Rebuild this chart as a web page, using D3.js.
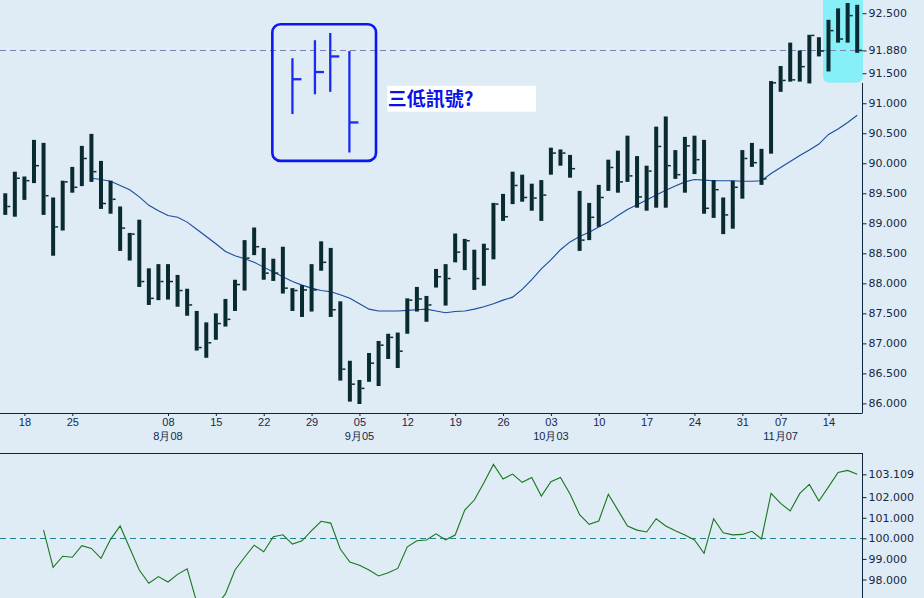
<!DOCTYPE html>
<html><head><meta charset="utf-8">
<script src="https://cdn.jsdelivr.net/npm/d3@7"></script>
<style>
body{margin:0;background:#e0ecf5;}
svg{display:block;}
.ax text{font-family:"DejaVu Sans",sans-serif;font-size:11px;fill:#14284a;}
.bx text{font-family:"Liberation Sans",Arial,sans-serif;font-size:11px;fill:#14284a;}
</style></head><body>
<svg id="c" width="924" height="598"></svg>
<script>
// ---- data ----
const highs = [89.50,89.86,89.78,90.39,90.34,89.43,89.71,89.94,90.29,90.49,90.04,89.71,89.28,88.84,89.06,88.25,88.32,88.32,88.14,87.91,
87.54,87.35,87.50,87.74,88.06,88.72,88.93,88.59,88.41,88.61,87.92,87.97,88.32,88.70,88.59,87.70,86.71,86.39,86.84,87.04,
87.16,87.18,87.75,87.94,87.79,88.24,88.32,88.83,88.74,88.56,88.66,89.34,89.49,89.86,89.81,89.66,89.72,90.26,90.23,90.14,
89.54,89.34,89.64,90.06,90.21,90.46,90.12,89.96,90.61,90.78,90.22,90.44,90.46,90.39,89.72,89.43,89.71,90.22,90.34,90.24,
91.37,91.62,92.01,91.88,92.14,92.10,92.39,92.58,92.67,92.64];
const lows = [89.14,89.11,89.39,89.67,89.14,88.46,88.88,89.51,89.62,89.69,89.24,89.16,88.54,88.38,87.94,87.64,87.72,87.73,87.61,87.46,
86.88,86.76,87.06,87.28,87.54,87.88,88.47,88.06,88.04,87.83,87.54,87.44,87.53,88.21,87.44,86.38,86.03,85.99,86.36,86.29,
86.74,86.59,87.16,87.53,87.36,87.93,87.63,88.35,88.22,87.89,87.96,88.40,89.04,89.32,89.36,89.21,89.04,89.81,89.96,89.76,
88.54,88.72,88.94,89.54,89.51,89.69,89.26,89.21,89.26,89.26,89.74,89.51,89.82,89.16,89.09,88.82,88.91,89.41,89.94,89.64,
90.16,91.19,91.36,91.36,91.33,91.78,91.53,92.01,92.01,91.84];
const closes = [89.28,89.75,89.71,89.96,89.46,88.94,89.69,89.60,90.08,89.86,89.33,89.40,88.92,88.82,88.03,87.75,88.03,88.03,87.88,87.64,
86.93,87.01,87.33,87.40,87.98,88.42,88.61,88.17,88.17,87.92,87.88,87.89,87.89,88.35,87.56,86.57,86.32,86.25,86.67,86.97,
87.10,86.87,87.72,87.74,87.64,88.11,88.08,88.52,88.71,88.08,88.57,89.32,89.11,89.63,89.43,89.42,89.47,90.17,90.17,89.91,
88.72,89.10,89.43,89.93,89.69,89.79,89.44,89.87,90.28,89.96,89.81,90.29,90.06,89.25,89.56,89.14,89.60,90.08,90.01,89.74,
91.34,91.38,91.39,91.61,92.13,91.87,92.21,92.07,92.46,91.88];
const maStart = 9;
const maValues = [89.75,89.73,89.70,89.63,89.56,89.44,89.30,89.21,89.13,89.10,89.02,88.90,88.78,88.66,88.53,88.46,88.41,88.35,88.27,88.19,
88.11,88.03,87.97,87.92,87.88,87.86,87.81,87.75,87.66,87.57,87.54,87.54,87.54,87.55,87.56,87.57,87.54,87.51,87.53,87.54,
87.57,87.61,87.66,87.72,87.77,87.90,88.06,88.24,88.39,88.56,88.69,88.78,88.85,88.94,89.02,89.13,89.23,89.31,89.39,89.47,
89.55,89.62,89.69,89.73,89.72,89.71,89.71,89.71,89.70,89.70,89.71,89.83,89.93,90.03,90.13,90.22,90.32,90.48,90.57,90.68,90.80];
const oscStart = 4;
const oscValues = [100.40,98.59,99.13,99.08,99.64,99.51,99.03,99.95,100.60,99.53,98.46,97.82,98.14,97.88,98.25,98.52,96.9,96.4,96.7,97.30,
98.46,99.08,99.67,99.35,100.08,100.17,99.72,99.88,100.37,100.83,100.74,99.48,98.85,98.69,98.46,98.17,98.33,98.54,99.59,99.88,
99.92,100.22,99.93,100.16,101.37,101.86,102.70,103.59,102.88,103.12,102.72,102.96,102.05,102.75,102.96,102.15,101.15,100.68,100.84,102.14,
101.37,100.60,100.40,100.31,100.95,100.60,100.37,100.16,99.92,99.27,100.95,100.27,100.17,100.19,100.34,99.97,102.18,101.70,101.33,102.18,
102.62,101.81,102.50,103.20,103.30,103.109];
const dayTickIdx = [2,7,17,22,27,32,37,42,47,52,57,62,67,72,77,81,86];
const dayTickLabels = ["18","25","08","15","22","29","05","12","19","26","03","10","17","24","31","07","14"];
const monthIdx = [17,37,57,81];
const monthLabels = ["8月08","9月05","10月03","11月07"];
const priceTicks = [86.0,86.5,87.0,87.5,88.0,88.5,89.0,89.5,90.0,90.5,91.0,91.5,92.5];
const oscTicks = [98,99,100,101,102];
const oscRef = 100;
// annotation sketch (index position, high, low, close)
const sketchIdx = [30.0,32.35,33.95,35.95];
const sketchHigh = [91.75,92.05,92.17,91.87];
const sketchLow = [90.82,91.15,91.19,90.18];
const sketchClose = [91.40,91.52,91.78,90.68];
const annotationText = "三低訊號?";

// ---- scales ----
const svg = d3.select("#c");
const x = d3.scaleLinear().domain([-0.55, 89.5]).range([0, 862]);
const y = d3.scaleLinear().domain([85.84, 92.72]).range([413, 0]);
const y2 = d3.scaleLinear().domain([97, 104.13]).range([600.1, 453.3]);
const n = closes.length;
const last = closes[n-1];
const fmt = d3.format(".3f");

// cyan highlight of last bars
svg.append("rect")
  .attr("x", x(85.43)).attr("y", -8)
  .attr("width", x(89.6)-x(85.43)).attr("height", y(91.34)+8)
  .attr("rx", 6).attr("fill", "#86eff8");

// right axis main
const ra = svg.append("g").attr("class","ax").attr("transform","translate(862.5,0)")
  .call(d3.axisRight(y).tickValues(priceTicks.concat([last])).tickFormat(fmt).tickSize(4).tickSizeOuter(0).tickPadding(2));
ra.select(".domain").attr("stroke","#0e2438").attr("d","M0,83V413");
ra.selectAll(".tick line").attr("stroke","#0e2438");
ra.selectAll(".tick text").filter(d=>d===last).attr("fill","#3c4c86");

// bottom axis
const ba = svg.append("g").attr("class","bx").attr("transform","translate(0,413)")
  .call(d3.axisBottom(x).tickValues(dayTickIdx).tickFormat((d,i)=>dayTickLabels[i]).tickSize(3).tickSizeOuter(0).tickPadding(2));
ba.select(".domain").attr("stroke","#0e2438").attr("d","M0,0.5H862.5");
ba.selectAll(".tick line").attr("stroke","#0e2438");
svg.append("g").attr("class","bx").selectAll("text").data(monthIdx).join("text")
  .attr("x", d=>x(d)).attr("y", 440).attr("text-anchor","middle").text((d,i)=>monthLabels[i]);

// dashed last-price line
svg.append("line").attr("x1",0).attr("x2",862).attr("y1",Math.round(y(last))+0.5).attr("y2",Math.round(y(last))+0.5)
  .attr("stroke","#7a82b4").attr("stroke-dasharray","6,4");

// moving average
const maLine = d3.line().x((d,i)=>x(i+maStart)).y(d=>y(d));
svg.append("path").attr("d", maLine(maValues)).attr("fill","none").attr("stroke","#1a4c9c").attr("stroke-width",1.1);

// bars
const idx = d3.range(n);
svg.append("g").selectAll("rect").data(idx).join("rect")
  .attr("x", i=>x(i)-2).attr("width",4)
  .attr("y", i=>y(highs[i])).attr("height", i=>Math.max(1,y(lows[i])-y(highs[i])))
  .attr("fill","#0a2a32");
svg.append("g").selectAll("rect").data(idx).join("rect")
  .attr("x", i=>x(i)+2).attr("width",3)
  .attr("y", i=>y(closes[i])-0.75).attr("height",1.5)
  .attr("fill","#0a2a32");

// annotation box
svg.append("rect").attr("x", x(27.9)).attr("y", y(92.315)).attr("width", x(38.73)-x(27.9)).attr("height", y(90.04)-y(92.315))
  .attr("rx",8).attr("fill","none").attr("stroke","#0c18f0").attr("stroke-width",2.6);
const sk = d3.range(sketchIdx.length);
svg.append("g").selectAll("line").data(sk).join("line")
  .attr("x1",i=>x(sketchIdx[i])).attr("x2",i=>x(sketchIdx[i]))
  .attr("y1",i=>y(sketchHigh[i])).attr("y2",i=>y(sketchLow[i]))
  .attr("stroke","#1a2cf0").attr("stroke-width",2.3);
svg.append("g").selectAll("line").data(sk).join("line")
  .attr("x1",i=>x(sketchIdx[i])).attr("x2",i=>x(sketchIdx[i])+9)
  .attr("y1",i=>y(sketchClose[i])).attr("y2",i=>y(sketchClose[i]))
  .attr("stroke","#1a2cf0").attr("stroke-width",2.3);
svg.append("rect").attr("x", x(39.91)).attr("y", y(91.29)).attr("width", x(55.45)-x(39.91)).attr("height", y(90.86)-y(91.29))
  .attr("fill","#ffffff");
svg.append("text").attr("x", x(39.95)).attr("y", y(90.95))
  .attr("font-family","'Noto Sans CJK TC',sans-serif").attr("font-weight","bold").attr("font-size",19)
  .attr("fill","#0a10e8").text(annotationText);

// ---- lower panel ----
svg.append("line").attr("x1",0).attr("x2",863).attr("y1",453.5).attr("y2",453.5).attr("stroke","#0e2438");
const la = svg.append("g").attr("class","ax").attr("transform","translate(862.5,0)")
  .call(d3.axisRight(y2).tickValues(oscTicks.concat([oscValues[oscValues.length-1]])).tickFormat(fmt).tickSize(4).tickSizeOuter(0).tickPadding(2));
la.select(".domain").attr("stroke","#0e2438").attr("d","M0,453.3V600");
la.selectAll(".tick line").attr("stroke","#0e2438");
la.selectAll(".tick text").filter(d=>d===oscValues[oscValues.length-1]).attr("fill","#6a78aa");
svg.append("line").attr("x1",0).attr("x2",862).attr("y1",Math.round(y2(oscRef))+0.5).attr("y2",Math.round(y2(oscRef))+0.5)
  .attr("stroke","#1f8494").attr("stroke-dasharray","6,4");
const oscLine = d3.line().x((d,i)=>x(i+oscStart)).y(d=>y2(d));
svg.append("path").attr("d", oscLine(oscValues)).attr("fill","none").attr("stroke","#16781c").attr("stroke-width",1.1);
</script>
</body></html>
